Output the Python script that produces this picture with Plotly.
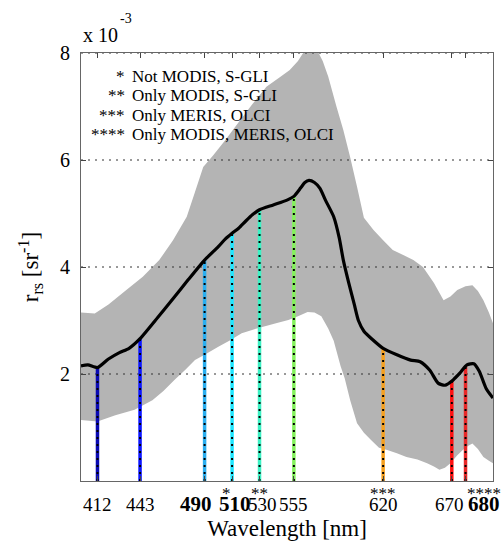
import numpy as np
import plotly.graph_objects as go

# Mean remote-sensing reflectance spectrum (units of 1e-3 sr^-1)
mean_wl = [400, 405, 412, 420, 428, 435, 443, 456, 468, 478, 490, 500, 505, 510,
           515, 520, 525, 530, 540, 550, 555, 560, 563, 566, 570, 574, 578, 584,
           588, 591, 595, 599, 602, 606, 612, 620, 630, 640, 647, 654, 660, 665,
           671, 676, 681, 686, 690, 695, 700]
mean_rrs = [2.15, 2.17, 2.12, 2.28, 2.40, 2.48, 2.66, 3.06, 3.44, 3.76, 4.13, 4.38,
            4.52, 4.63, 4.73, 4.86, 4.98, 5.07, 5.16, 5.25, 5.32, 5.48, 5.58, 5.62,
            5.58, 5.47, 5.25, 4.94, 4.55, 4.13, 3.70, 3.30, 3.00, 2.80, 2.65, 2.48,
            2.36, 2.26, 2.23, 2.07, 1.83, 1.79, 1.89, 2.02, 2.17, 2.19, 2.05, 1.73,
            1.55]

# Upper and lower envelope of the spectra
upper_wl = [400, 410, 420, 433, 445, 457, 467, 477, 483, 489, 496, 505, 516, 525,
            535, 545, 552, 558, 563, 568, 572, 576, 580, 586, 591, 596, 601, 606,
            613, 620, 627, 635, 642, 649, 657, 664, 669, 674, 680, 685, 689, 693,
            697, 700]
upper_rrs = [3.15, 3.13, 3.30, 3.57, 3.82, 4.13, 4.50, 4.94, 5.40, 5.87, 6.08, 6.37,
             6.75, 7.05, 7.37, 7.55, 7.68, 7.85, 8.05, 8.20, 8.05, 7.85, 7.56, 7.00,
             6.56, 6.05, 5.50, 4.92, 4.69, 4.50, 4.32, 4.22, 4.13, 4.00, 3.70, 3.38,
             3.45, 3.57, 3.64, 3.66, 3.55, 3.38, 3.15, 2.95]
lower_wl = [400, 412, 425, 439, 452, 460, 468, 476, 483, 490, 500, 508, 517, 524,
            532, 542, 551, 558, 565, 570, 575, 580, 584, 589, 592, 596, 601, 606,
            611, 617, 623, 630, 637, 645, 652, 657, 661, 665, 669, 674, 678, 682,
            685, 689, 693, 697, 700]
lower_rrs = [1.14, 1.11, 1.23, 1.33, 1.51, 1.68, 1.89, 2.08, 2.26, 2.36, 2.51, 2.62,
             2.76, 2.82, 2.88, 2.95, 3.01, 3.08, 3.16, 3.15, 3.08, 2.85, 2.62, 2.15,
             1.92, 1.51, 1.08, 0.90, 0.77, 0.62, 0.58, 0.52, 0.45, 0.40, 0.33, 0.27,
             0.21, 0.25, 0.33, 0.48, 0.58, 0.66, 0.70, 0.60, 0.45, 0.38, 0.33]

# Sensor bands
band_wl = [412, 443, 490, 510, 530, 555, 620, 670, 680]
band_labels = ["412", "443", "<b>490</b>", "<b>510</b>", "530", "555", "620", "670",
               "<b>680</b>"]
band_colors = ["#0a0ab4", "#0a14ff", "#2aaef0", "#1ee6ff", "#3cf2c4", "#84f25c",
               "#f5a020", "#ff1010", "#e82828"]
# horizontal nudges and sizes so that neighbouring labels do not collide
label_shift = [0, 0, -9, 3, 3, 0, 0, -2, 18]
label_size = [19, 19, 21, 21, 19, 19, 19, 19, 21]
band_stars = {510: "*", 530: "**", 620: "***", 680: "****"}
star_shift = {510: -6, 530: 0, 620: 0, 680: 18}

legend_stars = ["*", "**", "***", "****"]
legend_text = ["Not MODIS, S-GLI", "Only MODIS, S-GLI", "Only MERIS, OLCI",
               "Only MODIS, MERIS, OLCI"]

y_ticks = [2, 4, 6, 8]
x_range = [400, 700]
y_range = [0, 8]


def serif(size):
    return dict(family="Liberation Serif", size=size, color="black")


fig = go.Figure()

# Grey envelope
fig.add_trace(go.Scatter(
    x=upper_wl + lower_wl[::-1], y=upper_rrs + lower_rrs[::-1],
    fill="toself", fillcolor="#b4b4b4", mode="none", hoverinfo="skip",
    showlegend=False))

# Horizontal dotted grid drawn over the envelope
for yv in y_ticks:
    fig.add_trace(go.Scatter(
        x=x_range, y=[yv, yv], mode="lines",
        line=dict(color="#333333", width=1, dash="2px,5px"),
        hoverinfo="skip", showlegend=False))

# Coloured band lines from zero up to the mean spectrum
band_tops = np.interp(band_wl, mean_wl, mean_rrs)
for wl, top, col in zip(band_wl, band_tops, band_colors):
    fig.add_trace(go.Scatter(x=[wl, wl], y=[0, top], mode="lines",
                             line=dict(color=col, width=3.5),
                             hoverinfo="skip", showlegend=False))
    fig.add_trace(go.Scatter(x=[wl, wl], y=[0, top], mode="lines",
                             line=dict(color="black", width=2, dash="2px,5px"),
                             hoverinfo="skip", showlegend=False))

# Mean spectrum
fig.add_trace(go.Scatter(x=mean_wl, y=mean_rrs, mode="lines",
                         line=dict(color="black", width=3.2, shape="spline",
                                   smoothing=0.6),
                         showlegend=False))

# Wavelength labels under the axis
for wl, lab, dx, fs in zip(band_wl, band_labels, label_shift, label_size):
    fig.add_annotation(x=wl, y=0, xref="x", yref="paper", text=lab,
                       showarrow=False, xshift=dx, yshift=-23, yanchor="middle",
                       font=serif(fs))

# Asterisks above starred labels
for wl, s in band_stars.items():
    fig.add_annotation(x=wl, y=0, xref="x", yref="paper", text=s, showarrow=False,
                       xshift=star_shift[wl], yshift=-12, yanchor="middle",
                       font=serif(17))

# Legend for the asterisks
for i, (s, t) in enumerate(zip(legend_stars, legend_text)):
    yy = 0.946 - i * 0.0455
    fig.add_annotation(x=0.112, y=yy, xref="paper", yref="paper", text=s,
                       showarrow=False, xanchor="right", yanchor="middle",
                       font=serif(17))
    fig.add_annotation(x=0.118, y=yy, xref="paper", yref="paper", text=t,
                       showarrow=False, xanchor="left", yanchor="middle",
                       font=serif(17))

# Exponent note
fig.add_annotation(x=0, y=1, xref="paper", yref="paper", text="x 10",
                   showarrow=False, xanchor="left", yanchor="middle", yshift=18,
                   font=serif(20))
fig.add_annotation(x=0, y=1, xref="paper", yref="paper", text="-3",
                   showarrow=False, xanchor="left", yanchor="middle", xshift=37,
                   yshift=35, font=serif(14))

fig.update_layout(
    width=501, height=542,
    margin=dict(l=81, r=8, t=53, b=61, autoexpand=False),
    paper_bgcolor="white", plot_bgcolor="white",
)
fig.update_xaxes(
    range=x_range, tickmode="array", tickvals=band_wl, showticklabels=False,
    ticks="inside", ticklen=5, tickcolor="#444444", automargin=False,
    showline=True, linecolor="#666666", linewidth=1, mirror="ticks",
    showgrid=False, zeroline=False,
    title=dict(text="Wavelength [nm]", standoff=38, font=serif(23)),
)
fig.update_yaxes(
    range=y_range, tickmode="array", tickvals=y_ticks, automargin=False,
    ticks="inside", ticklen=5, tickcolor="#444444",
    showline=True, linecolor="#666666", linewidth=1, mirror="ticks",
    showgrid=False, zeroline=False, ticklabelstandoff=6,
    tickfont=serif(20),
    title=dict(text="r<sub>rs</sub> [sr<sup>-1</sup>]", standoff=14,
               font=serif(23)),
)

fig.write_html("out.html")
